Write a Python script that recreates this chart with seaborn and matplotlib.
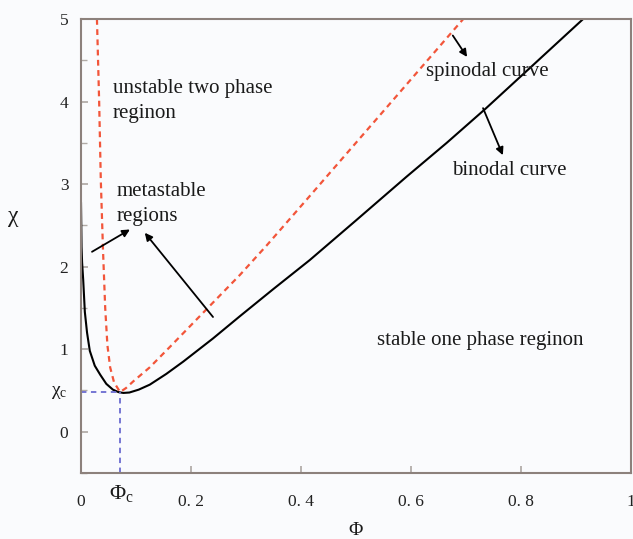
import numpy as np
import pandas as pd
import matplotlib
matplotlib.use('Agg')
import matplotlib.pyplot as plt
from matplotlib.ticker import FixedLocator, FixedFormatter, MultipleLocator
import seaborn as sns

# ── data ────────────────────────────────────────────────────────────
binodal_phi = [0.0, 0.001, 0.002, 0.004, 0.007, 0.011, 0.016, 0.025, 0.035,
               0.046, 0.058, 0.068, 0.077, 0.088, 0.105, 0.125, 0.155, 0.186,
               0.24, 0.289, 0.35, 0.416, 0.5, 0.592, 0.665, 0.735, 0.82, 0.913]
binodal_chi = [2.78, 2.24, 2.05, 1.84, 1.45, 1.2, 0.98, 0.8, 0.69,
               0.58, 0.51, 0.48, 0.47, 0.475, 0.51, 0.57, 0.7, 0.85,
               1.13, 1.40, 1.73, 2.08, 2.56, 3.09, 3.5, 3.91, 4.43, 5.0]

spinodal_phi = [0.029, 0.033, 0.036, 0.040, 0.044, 0.048, 0.053, 0.060, 0.071,
                0.082, 0.095, 0.125, 0.162, 0.216, 0.289, 0.338, 0.41, 0.565, 0.695]
spinodal_chi = [5.0, 4.0, 3.05, 2.2, 1.5, 1.05, 0.78, 0.6, 0.48,
                0.53, 0.61, 0.78, 1.03, 1.40, 1.90, 2.26, 2.81, 4.0, 5.0]

phi_c, chi_c = 0.071, 0.48

x_ticks = [0, 0.2, 0.4, 0.6, 0.8, 1.0]
x_tick_labels = ['0', '0. 2', '0. 4', '0. 6', '0. 8', '1']
y_ticks = [0, 1, 2, 3, 4, 5]
y_tick_labels = ['0', '1', '2', '3', '4', '5']

# annotation arrows: (tail, head) in data units
arrows = [
    ((0.676, 4.80), (0.702, 4.54)),   # spinodal curve
    ((0.731, 3.92), (0.767, 3.35)),   # binodal curve
    ((0.020, 2.18), (0.089, 2.45)),   # metastable (left)
    ((0.240, 1.39), (0.116, 2.41)),   # metastable (right)
]

labels = [
    (0.058, 4.01, 'unstable two phase\nreginon'),
    (0.065, 2.76, 'metastable\nregions'),
    (0.627, 4.37, 'spinodal curve'),
    (0.675, 3.17, 'binodal curve'),
    (0.538, 1.10, 'stable one phase reginon'),
]

binodal = pd.DataFrame({'phi': binodal_phi, 'chi': binodal_chi})
spinodal = pd.DataFrame({'phi': spinodal_phi, 'chi': spinodal_chi})

# ── style ───────────────────────────────────────────────────────────
sns.set_theme(style='ticks')
plt.rcParams['font.family'] = ['Liberation Serif', 'DejaVu Serif']
plt.rcParams['mathtext.fontset'] = 'custom'
plt.rcParams['mathtext.rm'] = 'Liberation Serif'
plt.rcParams['mathtext.it'] = 'Liberation Serif:italic'

bg = '#fafbfd'
spine_col = '#8c817c'

fig = plt.figure(figsize=(6.33, 5.39), dpi=100, facecolor=bg)
ax = fig.add_axes([81 / 633, 66 / 539, 550 / 633, 454 / 539], facecolor=bg)

sns.lineplot(data=binodal, x='phi', y='chi', sort=False, estimator=None,
             color='black', lw=1.5, ax=ax)
sns.lineplot(data=spinodal, x='phi', y='chi', sort=False, estimator=None,
             color='#f2553a', lw=1.6, ax=ax, dashes=False)
ax.lines[-1].set_dashes([2.6, 2])

# critical point guides
ax.plot([0, phi_c], [chi_c, chi_c], color='#6b6bd0', lw=1.3, dashes=[3, 2.5])
ax.plot([phi_c, phi_c], [-0.5, chi_c], color='#6b6bd0', lw=1.3, dashes=[3, 2.5])

for (tail, head) in arrows:
    ax.annotate('', xy=head, xytext=tail,
                arrowprops=dict(arrowstyle='-|>', color='black', lw=1.3,
                                mutation_scale=11, shrinkA=0, shrinkB=0))

for x, y, s in labels:
    ax.text(x, y, s, fontsize=15, ha='left', va='center', color='#1a1a1a',
            linespacing=1.45)

ax.set_xlim(0, 1)
ax.set_ylim(-0.5, 5)

ax.xaxis.set_major_locator(FixedLocator(x_ticks))
ax.xaxis.set_major_formatter(FixedFormatter(x_tick_labels))
ax.yaxis.set_major_locator(FixedLocator(y_ticks))
ax.yaxis.set_major_formatter(FixedFormatter(y_tick_labels))
ax.yaxis.set_minor_locator(MultipleLocator(0.5))

ax.tick_params(axis='both', which='both', direction='in', color='#b0aaa6',
               labelcolor='#222222', labelsize=12.5)
ax.tick_params(axis='x', which='major', length=5, pad=15)
ax.tick_params(axis='y', which='major', length=5, pad=9)
ax.tick_params(axis='y', which='minor', length=4)

for sp in ax.spines.values():
    sp.set_visible(True)
    sp.set_color(spine_col)
    sp.set_linewidth(1.5)

# critical point labels
ax.text(phi_c + 0.003, -0.62, r'Φ$_{\mathrm{c}}$', fontsize=16,
        ha='center', va='top', color='#1a1a1a')
ax.text(-0.04, chi_c, r'χ$_{\mathrm{c}}$', fontsize=14, ha='center',
        va='center', color='#1a1a1a', transform=ax.get_yaxis_transform())

ax.set_xlabel('Φ', fontsize=14, labelpad=9, color='#1a1a1a')
ax.set_ylabel('χ', fontsize=17, rotation=0, color='#1a1a1a')
ax.yaxis.set_label_coords(-0.124, 0.542)

fig.savefig('out.png', dpi=100, facecolor=bg)
